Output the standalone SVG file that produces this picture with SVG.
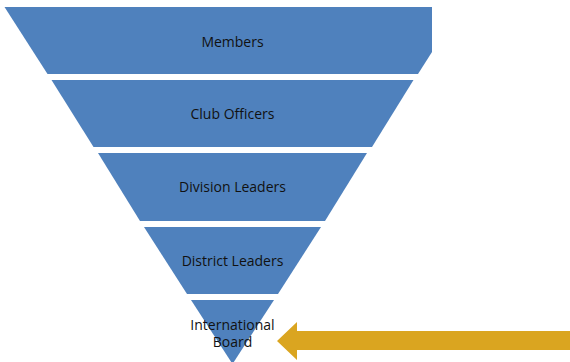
<svg xmlns="http://www.w3.org/2000/svg" width="570" height="362" viewBox="0 0 570 362">
<style>
.band{fill:#4F81BD;}
.lbl{font-family:"Open Sans","Liberation Sans",sans-serif;font-size:14px;fill:#111;text-anchor:middle;}
.arrow{fill:#DAA520;}
</style>
<rect width="570" height="362" fill="#fff"/>
<g id="members">
<polygon class="band" points="4.5,7 432,7 432,52 418,74 47.5,74"/>
<text class="lbl" x="232.5" y="46.5">Members</text>
</g>
<g id="club-officers">
<polygon class="band" points="51.5,80 413.5,80 372,147 93.5,147"/>
<text class="lbl" x="232.5" y="118.5">Club Officers</text>
</g>
<g id="division-leaders">
<polygon class="band" points="98,153 367,153 325,221 140,221"/>
<text class="lbl" x="232.5" y="191.5">Division Leaders</text>
</g>
<g id="district-leaders">
<polygon class="band" points="144,227 321,227 278,294 187,294"/>
<text class="lbl" x="232.5" y="265.5">District Leaders</text>
</g>
<g id="international-board">
<polygon class="band" points="191,300 274,300 232.5,364"/>
<text class="lbl" x="232.5" y="329.5">International</text>
<text class="lbl" x="232.5" y="347">Board</text>
</g>
<g id="connectors">
<polygon class="arrow" points="277,341 297,322 297,331 570,331 570,350 297,350 297,360"/>
</g>
</svg>
